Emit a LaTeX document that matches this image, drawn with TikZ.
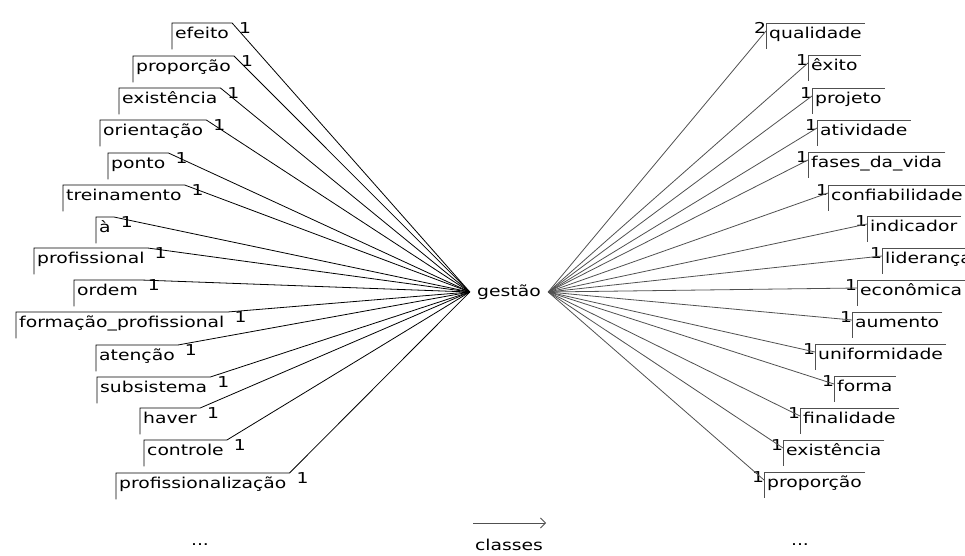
\documentclass[tikz,border=0pt]{standalone}
\usepackage{fontspec}
\setmainfont{DejaVu Sans}[FakeStretch=1.25]
\usepackage{xcolor}
\usepackage{tikz}
\usetikzlibrary{calc,positioning,arrows.meta}
\definecolor{wdark}{HTML}{000000}
\definecolor{wgray}{HTML}{505050}

\begin{document}
\begin{tikzpicture}[x=1pt,y=-1pt,
  lw/.style={anchor=north west,inner xsep=3pt,inner ysep=3pt,text height=12pt,text depth=8pt,font=\fontsize{15pt}{16pt}\selectfont},
  rw/.style={lw},
  cnt/.style={inner sep=0pt,font=\fontsize{15pt}{16pt}\selectfont},
  lk/.style={draw=wdark,line width=0.8pt},
  rk/.style={draw=wgray,line width=0.8pt}]
\clip (0,0) rectangle (965,556);
\node[inner sep=0pt,minimum width=78pt,font=\fontsize{15pt}{16pt}\selectfont] (gestao) at (509,292) {gestão};
% left side
\node[lw] (l1) at (172,23) {efeito};\node[cnt] (a1) at ([xshift=13pt,yshift=-5pt]l1.north east) {1};\draw[lk] (l1.south west) |- (l1.north east) -- (gestao.west);
\node[lw] (l2) at (133,56) {proporção};\node[cnt] (a2) at ([xshift=13pt,yshift=-5pt]l2.north east) {1};\draw[lk] (l2.south west) |- (l2.north east) -- (gestao.west);
\node[lw] (l3) at (119,88) {existência};\node[cnt] (a3) at ([xshift=13pt,yshift=-5pt]l3.north east) {1};\draw[lk] (l3.south west) |- (l3.north east) -- (gestao.west);
\node[lw] (l4) at (100,120) {orientação};\node[cnt] (a4) at ([xshift=13pt,yshift=-5pt]l4.north east) {1};\draw[lk] (l4.south west) |- (l4.north east) -- (gestao.west);
\node[lw] (l5) at (108,153) {ponto};\node[cnt] (a5) at ([xshift=13pt,yshift=-5pt]l5.north east) {1};\draw[lk] (l5.south west) |- (l5.north east) -- (gestao.west);
\node[lw] (l6) at (63,185) {treinamento};\node[cnt] (a6) at ([xshift=13pt,yshift=-5pt]l6.north east) {1};\draw[lk] (l6.south west) |- (l6.north east) -- (gestao.west);
\node[lw] (l7) at (96,217) {à};\node[cnt] (a7) at ([xshift=13pt,yshift=-5pt]l7.north east) {1};\draw[lk] (l7.south west) |- (l7.north east) -- (gestao.west);
\node[lw] (l8) at (34,248) {profissional};\node[cnt] (a8) at ([xshift=13pt,yshift=-5pt]l8.north east) {1};\draw[lk] (l8.south west) |- (l8.north east) -- (gestao.west);
\node[lw] (l9) at (74,280) {ordem};\node[cnt] (a9) at ([xshift=13pt,yshift=-5pt]l9.north east) {1};\draw[lk] (l9.south west) |- (l9.north east) -- (gestao.west);
\node[lw] (l10) at (16,312) {formação\_profissional};\node[cnt] (a10) at ([xshift=13pt,yshift=-5pt]l10.north east) {1};\draw[lk] (l10.south west) |- (l10.north east) -- (gestao.west);
\node[lw] (l11) at (96,345) {atenção};\node[cnt] (a11) at ([xshift=13pt,yshift=-5pt]l11.north east) {1};\draw[lk] (l11.south west) |- (l11.north east) -- (gestao.west);
\node[lw] (l12) at (97,377) {subsistema};\node[cnt] (a12) at ([xshift=13pt,yshift=-5pt]l12.north east) {1};\draw[lk] (l12.south west) |- (l12.north east) -- (gestao.west);
\node[lw] (l13) at (140,408) {haver};\node[cnt] (a13) at ([xshift=13pt,yshift=-5pt]l13.north east) {1};\draw[lk] (l13.south west) |- (l13.north east) -- (gestao.west);
\node[lw] (l14) at (144,440) {controle};\node[cnt] (a14) at ([xshift=13pt,yshift=-5pt]l14.north east) {1};\draw[lk] (l14.south west) |- (l14.north east) -- (gestao.west);
\node[lw] (l15) at (116,473) {profissionalização};\node[cnt] (a15) at ([xshift=13pt,yshift=-5pt]l15.north east) {1};\draw[lk] (l15.south west) |- (l15.north east) -- (gestao.west);
% right side
\node[rw] (r1) at (766,23) {qualidade};\node[cnt] (b1) at ([xshift=-6pt,yshift=-5pt]r1.north west) {2};\draw[rk] (r1.north east) -| (r1.south west);\draw[rk] (gestao.east) -- ([yshift=-8pt]r1.north west);
\node[rw] (r2) at (808,55) {êxito};\node[cnt] (b2) at ([xshift=-6pt,yshift=-5pt]r2.north west) {1};\draw[rk] (r2.north east) -| (r2.south west);\draw[rk] (gestao.east) -- ([yshift=-8pt]r2.north west);
\node[rw] (r3) at (812,88) {projeto};\node[cnt] (b3) at ([xshift=-6pt,yshift=-5pt]r3.north west) {1};\draw[rk] (r3.north east) -| (r3.south west);\draw[rk] (gestao.east) -- ([yshift=-8pt]r3.north west);
\node[rw] (r4) at (817,120) {atividade};\node[cnt] (b4) at ([xshift=-6pt,yshift=-5pt]r4.north west) {1};\draw[rk] (r4.north east) -| (r4.south west);\draw[rk] (gestao.east) -- ([yshift=-8pt]r4.north west);
\node[rw] (r5) at (808,152) {fases\_da\_vida};\node[cnt] (b5) at ([xshift=-6pt,yshift=-5pt]r5.north west) {1};\draw[rk] (r5.north east) -| (r5.south west);\draw[rk] (gestao.east) -- ([yshift=-8pt]r5.north west);
\node[rw] (r6) at (828,185) {confiabilidade};\node[cnt] (b6) at ([xshift=-6pt,yshift=-5pt]r6.north west) {1};\draw[rk] (r6.north east) -| (r6.south west);\draw[rk] (gestao.east) -- ([yshift=-8pt]r6.north west);
\node[rw] (r7) at (867,216) {indicador};\node[cnt] (b7) at ([xshift=-6pt,yshift=-5pt]r7.north west) {1};\draw[rk] (r7.north east) -| (r7.south west);\draw[rk] (gestao.east) -- ([yshift=-8pt]r7.north west);
\node[rw] (r8) at (882,248) {liderança};\node[cnt] (b8) at ([xshift=-6pt,yshift=-5pt]r8.north west) {1};\draw[rk] (r8.north east) -| (r8.south west);\draw[rk] (gestao.east) -- ([yshift=-8pt]r8.north west);
\node[rw] (r9) at (857,280) {econômica};\node[cnt] (b9) at ([xshift=-6pt,yshift=-5pt]r9.north west) {1};\draw[rk] (r9.north east) -| (r9.south west);\draw[rk] (gestao.east) -- ([yshift=-8pt]r9.north west);
\node[rw] (r10) at (852,312) {aumento};\node[cnt] (b10) at ([xshift=-6pt,yshift=-5pt]r10.north west) {1};\draw[rk] (r10.north east) -| (r10.south west);\draw[rk] (gestao.east) -- ([yshift=-8pt]r10.north west);
\node[rw] (r11) at (815,344) {uniformidade};\node[cnt] (b11) at ([xshift=-6pt,yshift=-5pt]r11.north west) {1};\draw[rk] (r11.north east) -| (r11.south west);\draw[rk] (gestao.east) -- ([yshift=-8pt]r11.north west);
\node[rw] (r12) at (834,376) {forma};\node[cnt] (b12) at ([xshift=-6pt,yshift=-5pt]r12.north west) {1};\draw[rk] (r12.north east) -| (r12.south west);\draw[rk] (gestao.east) -- ([yshift=-8pt]r12.north west);
\node[rw] (r13) at (800,408) {finalidade};\node[cnt] (b13) at ([xshift=-6pt,yshift=-5pt]r13.north west) {1};\draw[rk] (r13.north east) -| (r13.south west);\draw[rk] (gestao.east) -- ([yshift=-8pt]r13.north west);
\node[rw] (r14) at (783,440) {existência};\node[cnt] (b14) at ([xshift=-6pt,yshift=-5pt]r14.north west) {1};\draw[rk] (r14.north east) -| (r14.south west);\draw[rk] (gestao.east) -- ([yshift=-8pt]r14.north west);
\node[rw] (r15) at (764,472) {proporção};\node[cnt] (b15) at ([xshift=-6pt,yshift=-5pt]r15.north west) {1};\draw[rk] (r15.north east) -| (r15.south west);\draw[rk] (gestao.east) -- ([yshift=-8pt]r15.north west);
% bottom
\node[cnt] (dotsl) at (200,545) {...};\node[cnt] (dotsr) at (800,545) {...};
\node[inner sep=0pt,font=\fontsize{15pt}{16pt}\selectfont] (classes) at (509,545) {classes};
\coordinate (cl0) at (473,523);\coordinate (cl1) at (546,523);
\draw[-{Straight Barb[length=5pt,width=10pt]},line width=0.8pt,wgray] (cl0) -- (cl1);
\end{tikzpicture}
\end{document}
